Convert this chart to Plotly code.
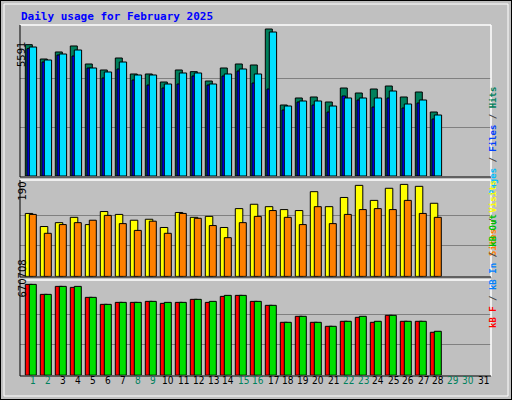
import plotly.graph_objects as go

days = list(range(1, 32))
hits = [4995,4450,4717,4945,4260,4032,4488,3880,3880,3575,4032,3968,3613,4108,4260,4222,5591,2700,2967,3005,2815,3347,3157,3309,3423,3005,3195,2434]
files = [4906,4412,4640,4792,4108,3956,4336,3842,3842,3499,3918,3918,3499,3880,4070,3880,5477,2662,2853,2853,2662,2967,2967,2967,3233,2738,2891,2320]
pages = [4843,4336,4602,4564,4108,3727,4070,3651,3461,3347,3499,3803,3461,3803,3994,3537,3309,2510,2815,2700,2434,3043,2891,2624,2967,2586,2777,2168]
visits = [130,103,111,122,107,134,128,116,118,101,132,122,124,101,140,149,144,138,136,175,144,163,188,157,182,190,186,151]
sites = [128,89,107,111,116,126,109,95,114,89,130,120,105,80,111,124,136,122,107,144,109,128,138,140,138,157,130,122]
kb_out = [670708,597000,656000,656000,575000,523300,538000,538000,545400,538000,538000,560200,545400,589700,589700,545400,516000,390600,434900,390600,361200,398000,434900,398000,442300,398000,398000,324300]
kb_f = [670708,597000,656000,648600,575000,523300,538000,538000,545400,530700,538000,560200,538000,582300,589700,545400,516000,390600,434900,390600,361200,398000,427500,390600,442300,398000,398000,317000]
weekend = [1,2,8,9,15,16,22,23,29,30]
max_labels = ["5591", "190", "670708"]

n = len(hits)
x = days[:n]
ln = dict(color="black", width=1)
fig = go.Figure()
def bar(y, col, off, w, ax):
    fig.add_trace(go.Bar(x=x, y=y, marker=dict(color=col, line=ln), offset=off, width=w,
                         xaxis="x" if ax == "y" else "x" + ax[1:], yaxis=ax, showlegend=False, hoverinfo="skip"))
bar(hits, "#00805c", -0.533, 0.467, "y")
bar(pages, "#0000ff", -0.42, 0.25, "y")
bar(files, "#00e0ff", -0.267, 0.487, "y")
bar(visits, "#ffff00", -0.533, 0.5, "y2")
bar(sites, "#ff8000", -0.267, 0.467, "y2")
bar(kb_f, "#ff0000", -0.533, 0.467, "y3")
bar(kb_out, "#00e000", -0.267, 0.467, "y3")

xr = [0.113, 31.513]
xd = [20/512, 491/512]
ycommon = dict(showticklabels=False, showline=False, zeroline=False, gridcolor="#808080", gridwidth=1)
xcommon = dict(range=xr, domain=xd, showticklabels=False, showgrid=False, zeroline=False, fixedrange=True)
m1, m2, m3 = 5591, 190, 670708
fig.update_layout(
    width=512, height=400, margin=dict(l=0, r=0, t=0, b=0),
    paper_bgcolor="#c0c0c0", plot_bgcolor="#c0c0c0", barmode="overlay",
    xaxis=dict(**xcommon, anchor="y"),
    xaxis2=dict(**xcommon, anchor="y2"),
    xaxis3=dict(**xcommon, anchor="y3"),
    yaxis=dict(**ycommon, range=[0, m1*151/147], domain=[0.56, 0.9375], tickvals=[m1/3, 2*m1/3], anchor="x"),
    yaxis2=dict(**ycommon, range=[0, m2*96/92], domain=[0.309, 0.549], tickvals=[m2/3, 2*m2/3], anchor="x2"),
    yaxis3=dict(**ycommon, range=[0, m3*95/91], domain=[0.062, 0.299], tickvals=[m3/3, 2*m3/3], anchor="x3"),
    font=dict(family="DejaVu Sans Mono", size=11, color="black"),
)

def px(xp, yp):
    return xp/512, 1 - yp/400

shapes = []
shapes.append(dict(type="rect", xref="paper", yref="paper", x0=0, y0=0, x1=1, y1=1, line=dict(color="black", width=2)))
shapes.append(dict(type="rect", xref="paper", yref="paper", x0=4/512, y0=4/400, x1=508/512, y1=396/400, line=dict(color="#ffffff", width=1)))
for (t, b) in [(25, 177), (180, 277), (280, 376)]:
    x0, y0 = px(20, b); x1, y1 = px(491, t)
    shapes.append(dict(type="line", xref="paper", yref="paper", x0=x0, y0=y1, x1=x1, y1=y1, line=dict(color="white", width=1.5)))
    shapes.append(dict(type="line", xref="paper", yref="paper", x0=x1, y0=y0, x1=x1, y1=y1, line=dict(color="white", width=1.5)))
    shapes.append(dict(type="line", xref="paper", yref="paper", x0=x0, y0=y0, x1=x0, y1=y1, line=dict(color="black", width=1)))
    shapes.append(dict(type="line", xref="paper", yref="paper", x0=x0, y0=y0, x1=x1, y1=y0, line=dict(color="black", width=1)))
fig.update_layout(shapes=shapes)

ann = []
ann.append(dict(text="<b>Daily usage for February 2025</b>", x=px(19, 16)[0], y=px(20, 16)[1], xref="paper", yref="paper",
                xanchor="left", yanchor="middle", showarrow=False, font=dict(size=11, color="#0000ff")))
for lab, yp in zip(max_labels, [40, 191, 300]):
    xx, yy = px(14, yp)
    ann.append(dict(text=lab, x=xx, y=yy, xref="paper", yref="paper", textangle=-90, showarrow=False,
                    font=dict(family="DejaVu Sans", size=10)))
leg = [
    ('<span style="color:#00c0ff">Pages</span> / <span style="color:#0040ff">Files</span> / <span style="color:#00805c">Hits</span>', 85),
    ('<span style="color:#ff8000">Sites</span> / <span style="color:#ffff00">Visits</span>', 218),
    ('<span style="color:#ff0000">kB F</span> / <span style="color:#0080ff">kB In</span> / <span style="color:#00c000">kB Out</span>', 330),
]
for t, yp in leg:
    xx, yy = px(500, yp)
    ann.append(dict(text="<b>" + t + "</b>", x=xx, y=yy, xref="paper", yref="paper", textangle=-90, showarrow=False,
                    font=dict(size=9, color="#404040")))
for d in days:
    ann.append(dict(text=str(d), x=d, y=px(0, 388)[1], xref="x3", yref="paper", showarrow=False,
                    font=dict(family="DejaVu Sans Condensed", size=10, color="#00805c" if d in weekend else "black")))
fig.update_layout(annotations=ann)
fig.write_html("out.html", config={"displayModeBar": False},
               post_script="document.body.style.margin='0';document.body.style.padding='0';")
